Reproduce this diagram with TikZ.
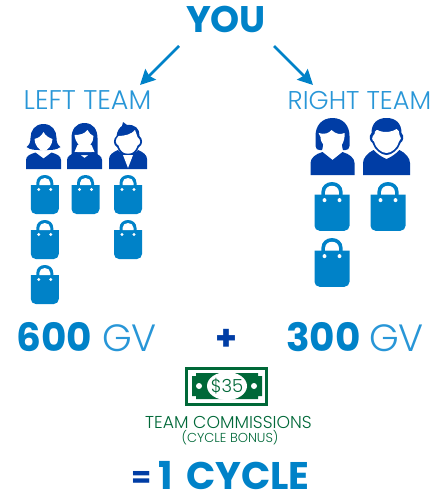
\documentclass[tikz,border=0pt]{standalone}
\usepackage{fontspec}
\setmainfont{Poppins}
\newfontfamily\lightfont{Poppins Light}
\usetikzlibrary{arrows.meta}
\definecolor{youblue}{RGB}{0, 130, 200}
\definecolor{darkblue}{RGB}{0, 61, 165}
\definecolor{billgreen}{RGB}{0, 104, 56}
\definecolor{teamblue}{RGB}{40, 150, 215}
\tikzset{
  x=1pt, y=-1pt,
  heavy/.style={anchor=base, inner sep=0, text=youblue, font=\fontsize{#1}{#1}\selectfont\bfseries},
  thin label/.style={anchor=base, inner sep=0, text=teamblue, font=\fontsize{#1}{#1}\selectfont\lightfont},
  arrow/.style={-{Stealth[length=15pt,width=15pt,inset=2pt]}, line width=2.5pt, youblue},
  pics/bag/.style={code={
    \fill [youblue] (-14,10) -- (14,10) {[rounded corners=5pt] -- (14,39) -- (-14,39)} -- cycle;
    \fill [youblue] (-8.5,11) -- (-8.5,8) .. controls (-8.5,3) and (-4.5,0) .. (0,0)
      .. controls (4.5,0) and (8.5,3) .. (8.5,8) -- (8.5,11) -- cycle;
    \fill [white] (-5.5,10) -- (-5.5,8) .. controls (-5.5,5) and (-3,3) .. (0,3)
      .. controls (3,3) and (5.5,5) .. (5.5,8) -- (5.5,10) -- cycle;
    \fill [white] (-6,14.5) circle (1.6) (6,14.5) circle (1.6);
  }},
  pics/womanbob/.style={code={
    \fill [darkblue] (0,0) .. controls (-9,0) and (-13,7) .. (-13,14) .. controls (-13,18) and (-14,21) .. (-17,23)
      .. controls (-13,26) and (-8,26) .. (-5,26) -- (5,26) .. controls (8,26) and (13,26) .. (17,23)
      .. controls (14,21) and (13,18) .. (13,14) .. controls (13,7) and (9,0) .. (0,0) -- cycle;
    \fill [white] (-9,15) .. controls (-5,14) and (-2,12) .. (0,8) .. controls (2,12) and (6,14) .. (9,15)
      .. controls (9,21) and (4,27) .. (0,27) .. controls (-4,27) and (-9,21) .. (-9,15) -- cycle;
    \fill [darkblue] (-17.5,45) -- (-17.5,36) .. controls (-17.5,32) and (-13,30) .. (-8,28.5) -- (0,34.5) -- (8,28.5)
      .. controls (13,30) and (17.5,32) .. (17.5,36) -- (17.5,45) -- cycle;
  }},
  pics/womanlong/.style={code={
    \fill [darkblue] (0,0) .. controls (-9,0) and (-13,7) .. (-13,15) -- (-13,32) -- (13,32) -- (13,15)
      .. controls (13,7) and (9,0) .. (0,0) -- cycle;
    \fill [white] (-10,12) .. controls (-5,12) and (0,11) .. (3,7) .. controls (4,10) and (7,12) .. (9,13)
      .. controls (9,20) and (4,25) .. (0,25) .. controls (-4,25) and (-9,20) .. (-10,12) -- cycle;
    \fill [white] (-7,22) -- (7,22) -- (10,29) -- (-10,29) -- cycle;
    \fill [darkblue] (-17.5,46) -- (-17.5,37) .. controls (-17.5,33) and (-13,31) .. (-8,29) -- (0,35) -- (8,29)
      .. controls (13,31) and (17.5,33) .. (17.5,37) -- (17.5,46) -- cycle;
  }},
  pics/manspike/.style={code={
    \fill [darkblue] (-5,0) -- (-1,3) .. controls (7,2) and (12,7) .. (11.5,14) .. controls (15,17) and (15,23) .. (11,25)
      .. controls (9,31) and (4,34) .. (0,34) .. controls (-4,34) and (-9,31) .. (-11,25)
      .. controls (-15,23) and (-15,17) .. (-11.5,14) .. controls (-11,9) and (-8,5) .. (-6,4) -- cycle;
    \fill [white] (-9.5,14) .. controls (-3,14) and (4,12) .. (7,8) .. controls (8,11) and (9,13) .. (9.5,15)
      .. controls (13,18) and (13,22) .. (9.5,23.5) .. controls (8,29) and (4,32) .. (0,32)
      .. controls (-4,32) and (-8,29) .. (-9.5,23.5) .. controls (-13,22) and (-13,17) .. (-9.5,14) -- cycle;
    \fill [darkblue] (-19,47) -- (-19,37) .. controls (-19,33) and (-15,30) .. (-10,28) .. controls (-7,33) and (7,33) .. (10,28)
      .. controls (15,30) and (19,33) .. (19,37) -- (19,47) -- cycle;
    \fill [white] (-5,33) -- (5,33) -- (0,46) -- cycle;
  }},
  pics/womanround/.style={code={
    \fill [darkblue] (0,0) .. controls (-11,0) and (-17,8) .. (-17,18) -- (-17,28) .. controls (-17,31) and (-15,32) .. (-13,32)
      -- (13,32) .. controls (15,32) and (17,31) .. (17,28) -- (17,18) .. controls (17,8) and (11,0) .. (0,0) -- cycle;
    \fill [white] (-14,15) .. controls (-8,17) and (-3,15) .. (-1,12) .. controls (3,16) and (8,17) .. (12,15)
      .. controls (13,24) and (7,33) .. (0,33) .. controls (-6,33) and (-12,25) .. (-12,19) -- cycle;
    \fill [white] (-9,26) -- (9,26) -- (11,35) -- (-11,35) -- cycle;
    \fill [darkblue] (-22,57) -- (-22,45) .. controls (-22,40) and (-17,36) .. (-10,34) -- (0,42) -- (10,34)
      .. controls (17,36) and (22,40) .. (22,45) -- (22,57) -- cycle;
  }},
  pics/manround/.style={code={
    \fill [darkblue] (0,0) .. controls (-9,0) and (-15,5) .. (-15,15) .. controls (-18,18) and (-17,23) .. (-14,25)
      .. controls (-12,32) and (-5,37) .. (0,37) .. controls (5,37) and (12,32) .. (14,25)
      .. controls (17,23) and (18,18) .. (15,15) .. controls (15,5) and (9,0) .. (0,0) -- cycle;
    \fill [white] (-12,16) .. controls (-12,12) and (-9,11) .. (-7,13) .. controls (-2,15) and (6,14) .. (10,11)
      .. controls (12,12) and (13,14) .. (13,17) .. controls (15,19) and (15,22) .. (12.5,23.5)
      .. controls (11,30) and (5,35) .. (0,35) .. controls (-5,35) and (-11,30) .. (-12.5,23.5)
      .. controls (-15,22) and (-15,19) .. (-12,16) -- cycle;
    \fill [darkblue] (-23.5,57) -- (-23.5,45) .. controls (-23.5,40) and (-19,35) .. (-13,32) .. controls (-9,36) and (-5,39) .. (0,41)
      .. controls (5,39) and (9,36) .. (13,32) .. controls (19,35) and (23.5,40) .. (23.5,45) -- (23.5,57) -- cycle;
  }}
}
\begin{document}
\begin{tikzpicture}
  \useasboundingbox (0,0) rectangle (443,495);

  \node [heavy=37] (you) at (226,33) {YOU};
  \node [thin label=27] (leftteam) at (87.5,109) {LEFT TEAM};
  \node [thin label=25.7] (rightteam) at (359.5,109) {RIGHT TEAM};

  \coordinate (leftfrom) at (179,46);
  \coordinate (leftto) at (140,85);
  \coordinate (rightfrom) at (274,46);
  \coordinate (rightto) at (313,85);
  \draw [arrow] (leftfrom) -- (leftto);
  \draw [arrow] (rightfrom) -- (rightto);

  % left team
  \pic at (43.5,124) {womanbob};
  \pic at (84.5,123) {womanlong};
  \pic at (128,122) {manspike};
  \foreach \x/\y in {44.8/175, 85.5/175, 128/175, 44.8/220, 128/220, 44.8/265}
    \pic at (\x,\y) {bag};

  % right team
  \pic at (332.5,118) {womanround};
  \pic at (386.5,118) {manround};
  \foreach \x/\y in {332/182, 388/182, 332/238}
    \pic [scale=1.25] at (\x,\y) {bag};

  \node [heavy=39, anchor=base west] (leftnum) at (16,351) {600};
  \node [thin label=38, anchor=base east] (leftgv) at (157,351) {GV};
  \node [heavy=35, text=darkblue] (plus) at (226,350) {+};
  \node [heavy=39, anchor=base west] (rightnum) at (286,351) {300};
  \node [thin label=38, anchor=base east] (rightgv) at (424,351) {GV};

  % bill
  \draw [billgreen, line width=3pt] (186.5,368.5) rectangle (266.5,404);
  \fill [billgreen] (196,373) -- (258,373) -- (258,376) -- (262,376) -- (262,396) -- (258,396) -- (258,399)
    -- (196,399) -- (196,396) -- (192,396) -- (192,376) -- (196,376) -- cycle;
  \fill [white] (227,386) ellipse (20 and 14);
  \fill [white] (199,386) circle (3) (254,386) circle (3);
  \node [anchor=base, inner sep=0, text=billgreen, font=\fontsize{18}{18}\selectfont\lightfont] (amount) at (227,392.5) {\$35};

  \node [thin label=17.2, text=billgreen] (bonus) at (228.5,428.5) {TEAM COMMISSIONS};
  \node [thin label=13, text=billgreen] (bonussub) at (230,442.5) {(CYCLE BONUS)};

  \node [heavy=29, text=darkblue, anchor=base west] (equals) at (131,487) {=};
  \node [heavy=38.5, anchor=base east] (cycle) at (310,489) {1\,\,CYCLE};
\end{tikzpicture}
\end{document}
